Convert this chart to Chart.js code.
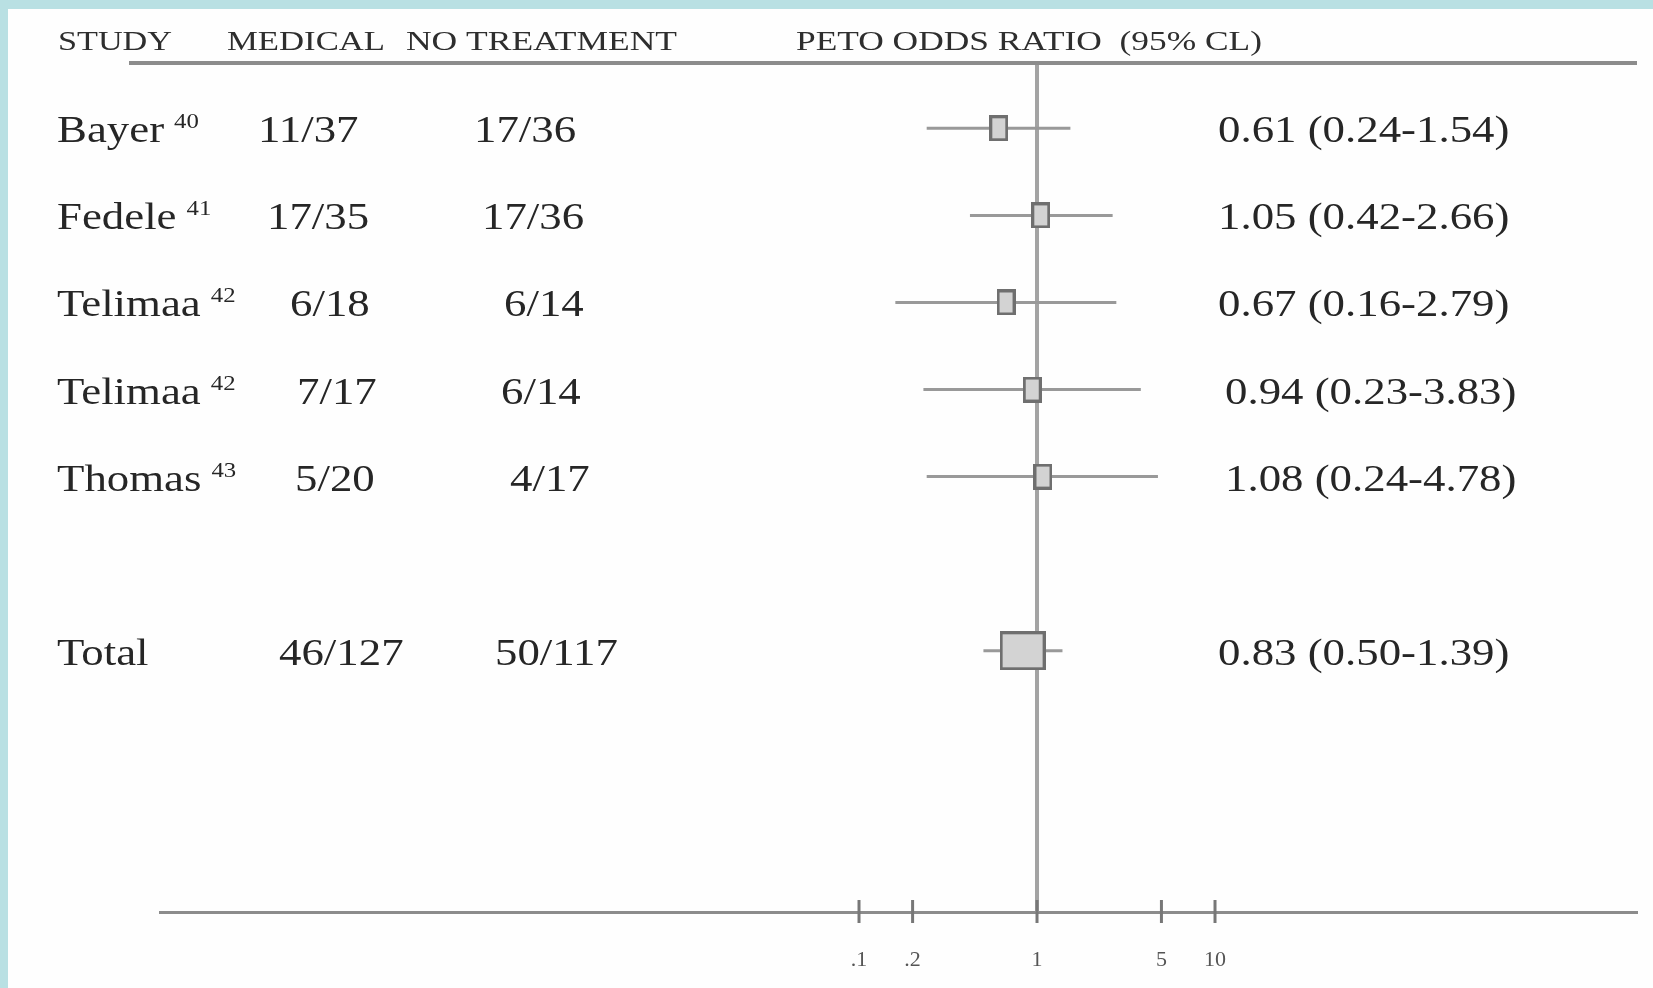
<!DOCTYPE html>
<html><head><meta charset="utf-8">
<script src="https://cdn.jsdelivr.net/npm/chart.js@4.4.1/dist/chart.umd.min.js"></script>
<style>
html,body{margin:0;padding:0;background:#fff;}
#wrap{position:relative;width:1653px;height:988px;overflow:hidden;background:#fefefe;}
#bandTop{position:absolute;left:0;top:0;width:1653px;height:9px;background:#b9e0e3;}
#bandLeft{position:absolute;left:0;top:0;width:8px;height:988px;background:#b9e0e3;}
canvas{position:absolute;left:0;top:0;}
</style></head><body>
<div id="wrap"><div id="bandTop"></div><div id="bandLeft"></div><canvas id="c" width="1653" height="988"></canvas></div>
<script>
// ---- data ----
const studies = ['Bayer', 'Fedele', 'Telimaa', 'Telimaa', 'Thomas', 'Total'];
const refs = ['40', '41', '42', '42', '43', ''];
const medical = ['11/37', '17/35', '6/18', '7/17', '5/20', '46/127'];
const noTreatment = ['17/36', '17/36', '6/14', '6/14', '4/17', '50/117'];
const oddsRatio = [0.61, 1.05, 0.67, 0.94, 1.08, 0.83];
const ciLow = [0.24, 0.42, 0.16, 0.23, 0.24, 0.50];
const ciHigh = [1.54, 2.66, 2.79, 3.83, 4.78, 1.39];
const rowIndex = [0, 1, 2, 3, 4, 6];
const isTotal = [false, false, false, false, false, true];
const tickValues = [0.1, 0.2, 1, 5, 10];
const tickLabels = ['.1', '.2', '1', '5', '10'];
const headers = ['STUDY', 'MEDICAL', 'NO TREATMENT', 'PETO ODDS RATIO  (95% CL)'];

// ---- layout (pixels) ----
const headerSpan = [[58, 172], [227, 385], [406, 677], [796, 1262]];
const nameX = 57;
const medX = [258, 267, 290, 297, 295, 279];
const noTxX = [474, 482, 504, 501, 510, 495];
const orX = [1218, 1218, 1218, 1225, 1225, 1218];
const serif = '"Liberation Serif","Times New Roman",serif';
const textColor = '#262626';

function makeBox(w, h) {
  const c = document.createElement('canvas');
  c.width = w; c.height = h;
  const g = c.getContext('2d');
  g.fillStyle = '#d3d3d3';
  g.fillRect(0, 0, w, h);
  g.strokeStyle = '#6f6f6f';
  g.lineWidth = 3;
  g.strokeRect(1.5, 1.5, w - 3, h - 3);
  return c;
}
const smallBox = makeBox(19, 26);
const bigBox = makeBox(46, 39);

const fmt = v => v.toFixed(2);

function drawStretched(ctx, text, x, y, size, sx, color) {
  ctx.save();
  ctx.font = size + 'px ' + serif;
  ctx.fillStyle = color;
  ctx.textBaseline = 'alphabetic';
  ctx.textAlign = 'left';
  const w = ctx.measureText(text).width * sx;
  ctx.translate(x, y);
  ctx.scale(sx, 1);
  ctx.fillText(text, 0, 0);
  ctx.restore();
  return w;
}
function drawFit(ctx, text, x0, x1, y, size, color) {
  ctx.save();
  ctx.font = size + 'px ' + serif;
  const w = ctx.measureText(text).width;
  ctx.restore();
  return drawStretched(ctx, text, x0, y, size, (x1 - x0) / w, color);
}

const tablePlugin = {
  id: 'forestTable',
  afterDraw(chart) {
    const ctx = chart.ctx;
    const ys = chart.scales.y, xs = chart.scales.x;
    const area = chart.chartArea;
    // header rule
    ctx.save();
    ctx.strokeStyle = '#8c8c8c';
    ctx.lineWidth = 4;
    ctx.beginPath();
    ctx.moveTo(129, area.top);
    ctx.lineTo(1637, area.top);
    ctx.stroke();
    ctx.restore();
    // headers
    headers.forEach((h, i) => drawFit(ctx, h, headerSpan[i][0], headerSpan[i][1], 50, 28, '#2e2e2e'));
    // rows
    const sx = 1.18;
    studies.forEach((s, i) => {
      const y = ys.getPixelForValue(rowIndex[i]) + 14;
      const w = drawStretched(ctx, s, nameX, y, 38, sx, textColor);
      if (refs[i]) drawStretched(ctx, refs[i], nameX + w + 10, y - 14, 21, sx, textColor);
      drawStretched(ctx, medical[i], medX[i], y, 38, sx, textColor);
      drawStretched(ctx, noTreatment[i], noTxX[i], y, 38, sx, textColor);
      const orText = fmt(oddsRatio[i]) + ' (' + fmt(ciLow[i]) + '-' + fmt(ciHigh[i]) + ')';
      drawStretched(ctx, orText, orX[i], y, 38, sx, textColor);
    });
    // axis tick marks straddling the axis line
    ctx.save();
    ctx.strokeStyle = '#777';
    ctx.lineWidth = 3;
    xs.ticks.forEach(t => {
      const px = xs.getPixelForValue(t.value);
      ctx.beginPath();
      ctx.moveTo(px, area.bottom - 12);
      ctx.lineTo(px, area.bottom + 11);
      ctx.stroke();
    });
    ctx.restore();
  }
};

const datasets = [];
// boxes
datasets.push({
  type: 'scatter',
  order: 0,
  data: oddsRatio.map((v, i) => ({ x: v, y: rowIndex[i] })),
  pointStyle: isTotal.map(t => t ? bigBox : smallBox),
  pointRadius: 12,
  borderWidth: 0
});
// confidence interval lines
ciLow.forEach((lo, i) => {
  datasets.push({
    type: 'line',
    order: 1,
    data: [{ x: lo, y: rowIndex[i] }, { x: ciHigh[i], y: rowIndex[i] }],
    borderColor: '#999999',
    borderWidth: 3,
    pointRadius: 0,
    fill: false
  });
});
// line of no effect (OR = 1)
datasets.push({
  type: 'line',
  order: 2,
  data: [{ x: 1, y: -0.75 }, { x: 1, y: 9 }],
  borderColor: '#a3a3a3',
  borderWidth: 4,
  pointRadius: 0,
  fill: false
});

new Chart(document.getElementById('c'), {
  data: { datasets },
  options: {
    responsive: false,
    devicePixelRatio: 1,
    animation: false,
    events: [],
    layout: { padding: { left: 160, right: 16, top: 63, bottom: 0 } },
    plugins: { legend: { display: false }, tooltip: { enabled: false } },
    scales: {
      x: {
        type: 'logarithmic',
        position: 'bottom',
        min: 1.183e-5,
        max: 2348,
        afterBuildTicks: s => { s.ticks = tickValues.map(v => ({ value: v })); },
        afterFit: s => { s.height = 76; },
        grid: { display: false },
        border: { display: true, color: '#8c8c8c', width: 3 },
        ticks: {
          autoSkip: false,
          maxRotation: 0,
          padding: 27,
          color: '#555',
          font: { family: serif, size: 22 },
          callback: (v, i) => tickLabels[i]
        }
      },
      y: {
        type: 'linear',
        reverse: true,
        min: -0.75,
        max: 9,
        display: false
      }
    }
  },
  plugins: [tablePlugin]
});
</script>
</body></html>
